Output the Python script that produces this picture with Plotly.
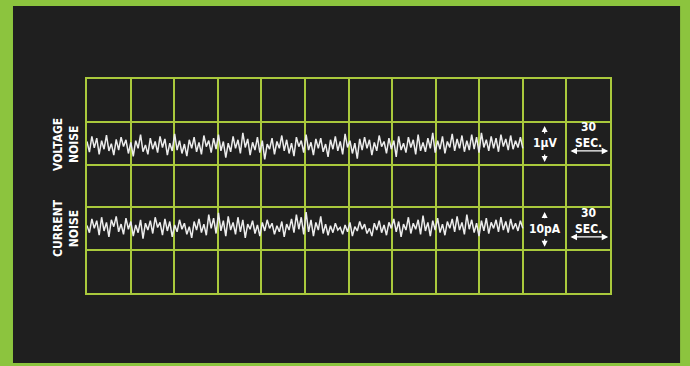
import numpy as np
import plotly.graph_objects as go

# ---- data ----
voltage_noise = [
    0.10,-0.15,0.22,-0.05,0.18,-0.20,0.12,-0.08,0.25,-0.12,
    0.05,-0.22,0.15,-0.10,0.20,-0.02,0.14,-0.18,0.08,-0.25,
    0.12,-0.06,0.26,-0.14,0.02,-0.20,0.18,-0.08,0.10,-0.16,
    0.22,-0.04,0.16,-0.22,0.06,-0.12,0.28,-0.10,0.12,-0.18,
    0.04,-0.24,0.14,-0.06,0.20,-0.14,0.08,-0.20,0.24,-0.02,
    0.12,-0.16,0.18,-0.08,0.26,-0.12,0.10,-0.28,0.06,-0.14,
    0.22,-0.06,0.14,-0.18,0.30,-0.04,0.16,-0.22,0.08,-0.10,
    0.20,-0.16,0.12,-0.32,0.04,-0.08,0.18,-0.20,0.10,-0.06,
    0.24,-0.12,0.14,-0.18,0.06,-0.24,0.20,-0.02,0.12,-0.16,
    0.26,-0.10,0.08,-0.22,0.16,-0.06,0.18,-0.14,0.04,-0.26,
    0.14,-0.08,0.22,-0.12,0.10,-0.20,0.28,-0.04,0.12,-0.18,
    0.06,-0.30,0.16,-0.10,0.20,-0.06,0.14,-0.22,0.08,-0.12,
    0.24,-0.02,0.10,-0.18,0.18,-0.08,0.12,-0.26,0.22,-0.10,
    0.06,-0.16,0.20,-0.04,0.14,-0.20,0.26,-0.12,0.08,-0.14,
    0.18,-0.06,0.30,-0.16,0.12,-0.08,0.22,-0.18,0.10,-0.04,
    0.28,-0.12,0.16,-0.06,0.24,-0.14,0.12,-0.10,0.26,-0.08,
    0.20,-0.16,0.30,-0.04,0.14,-0.12,0.22,-0.06,0.18,-0.14,
    0.26,-0.02,0.16,-0.10,0.24,-0.08,0.12,-0.04,0.20,-0.06,
]
current_noise = [
    0.05,-0.12,0.20,-0.02,0.16,-0.18,0.24,-0.08,0.12,-0.22,
    0.18,0.02,0.26,-0.10,0.08,-0.16,0.22,-0.04,0.14,-0.20,
    0.06,-0.12,0.18,-0.26,0.10,-0.06,0.16,-0.14,0.24,0.00,
    0.12,-0.18,0.20,-0.08,0.14,-0.22,0.06,-0.10,0.18,-0.04,
    0.10,-0.16,0.02,-0.24,0.14,-0.06,0.20,-0.12,0.08,-0.18,
    0.30,-0.02,0.22,-0.14,0.34,-0.08,0.16,-0.20,0.26,-0.06,
    0.12,-0.16,0.24,-0.10,0.18,-0.24,0.08,-0.04,0.16,-0.14,
    0.06,-0.20,0.12,-0.08,0.18,-0.02,0.10,-0.16,0.04,-0.10,
    0.14,-0.22,0.08,-0.06,0.20,-0.12,0.30,-0.04,0.24,-0.16,
    0.36,-0.10,0.18,-0.20,0.12,-0.06,0.26,-0.14,0.08,-0.18,
    0.04,-0.12,0.10,-0.06,0.00,-0.16,0.06,-0.10,0.12,-0.20,
    0.02,-0.08,0.14,-0.04,0.08,-0.14,-0.02,-0.20,0.10,-0.06,
    0.16,-0.12,0.06,-0.18,0.12,-0.02,0.20,-0.10,0.14,-0.22,
    0.08,-0.06,0.24,-0.14,0.10,-0.04,0.18,-0.16,0.28,-0.08,
    0.12,-0.20,0.16,-0.06,0.22,-0.12,0.08,-0.18,0.14,-0.02,
    0.20,-0.10,0.26,-0.06,0.12,-0.16,0.30,-0.04,0.18,-0.12,
    0.10,-0.20,0.16,-0.08,0.22,-0.14,0.12,-0.02,0.18,-0.10,
    0.24,-0.06,0.14,-0.12,0.20,-0.04,0.10,-0.08,0.16,-0.02,
]
row_labels = ["VOLTAGE<br>NOISE", "CURRENT<br>NOISE"]
scale_labels = ["1μV", "10pA"]
time_label = "30<br>SEC."

# ---- style ----
GREEN = "#8cc43e"
PANEL = "#1f1f1f"
GRID = "#a9c93c"
TRACE = "#ececec"
FONT = "Liberation Sans Narrow, DejaVu Sans Condensed, Arial Narrow, sans-serif"

V_BASE = 3.44
C_BASE = 1.53

n = len(voltage_noise)
t = np.linspace(0, 10, n)

fig = go.Figure()
fig.add_trace(go.Scatter(x=t, y=np.array(voltage_noise) + V_BASE, mode="lines",
                         line=dict(color=TRACE, width=1.5), hoverinfo="skip"))
fig.add_trace(go.Scatter(x=t, y=np.array(current_noise) + C_BASE, mode="lines",
                         line=dict(color=TRACE, width=1.5), hoverinfo="skip"))

# black panel behind
fig.add_shape(type="rect", xref="paper", yref="paper",
              x0=-0.1415, x1=1.134, y0=-0.327, y1=1.341,
              fillcolor=PANEL, line=dict(width=0), layer="below")

annots = []
# row labels
for lbl, yc in zip(row_labels, [3.46, 1.52]):
    annots.append(dict(text=lbl, x=-0.04, xref="paper", y=yc, yref="y",
                       textangle=-90, showarrow=False,
                       font=dict(family=FONT, size=12, color="white", weight="bold"),
                       xanchor="center", yanchor="middle"))

# scale labels with vertical arrows
for lbl, yc, up_tip, up_tail, dn_tail, dn_tip in [
        (scale_labels[0], 3.50, 3.90, 3.69, 3.27, 3.06),
        (scale_labels[1], 1.50, 1.89, 1.71, 1.29, 1.08)]:
    annots.append(dict(text=lbl, x=10.5, y=yc, xref="x", yref="y", showarrow=False,
                       font=dict(family=FONT, size=12, color="white", weight="bold")))
    for tip, tail in [(up_tip, up_tail), (dn_tip, dn_tail)]:
        annots.append(dict(text="", x=10.5, y=tip, xref="x", yref="y",
                           ax=10.5, ay=tail, axref="x", ayref="y",
                           showarrow=True, arrowhead=2, arrowsize=1,
                           arrowwidth=1.2, arrowcolor="white"))

# time labels with double arrow
for yc, ya in [(3.69, 3.32), (1.68, 1.31)]:
    annots.append(dict(text=time_label, x=11.5, y=yc, xref="x", yref="y", showarrow=False,
                       font=dict(family=FONT, size=12, color="white", weight="bold")))
    annots.append(dict(text="", x=11.96, y=ya, xref="x", yref="y",
                       ax=11.06, ay=ya, axref="x", ayref="y",
                       showarrow=True, arrowhead=2, startarrowhead=2,
                       arrowside="end+start", arrowsize=1, startarrowsize=1,
                       arrowwidth=1.3, arrowcolor="white"))

axis_common = dict(showgrid=True, gridcolor=GRID, gridwidth=1.5, dtick=1,
                   showticklabels=False, ticks="", zeroline=False,
                   showline=True, linecolor=GRID, linewidth=1.5, mirror=True,
                   fixedrange=True)

fig.update_layout(
    width=690, height=366,
    margin=dict(l=87, r=80, t=79, b=73),
    paper_bgcolor=GREEN, plot_bgcolor=PANEL,
    showlegend=False,
    xaxis=dict(range=[0, 12], tick0=0, **axis_common),
    yaxis=dict(range=[0, 5], tick0=0, **axis_common),
    annotations=annots,
)

fig.write_html("out.html", config={"displayModeBar": False},
               post_script="document.body.style.margin='0';document.body.style.padding='0';document.body.style.overflow='hidden';")
